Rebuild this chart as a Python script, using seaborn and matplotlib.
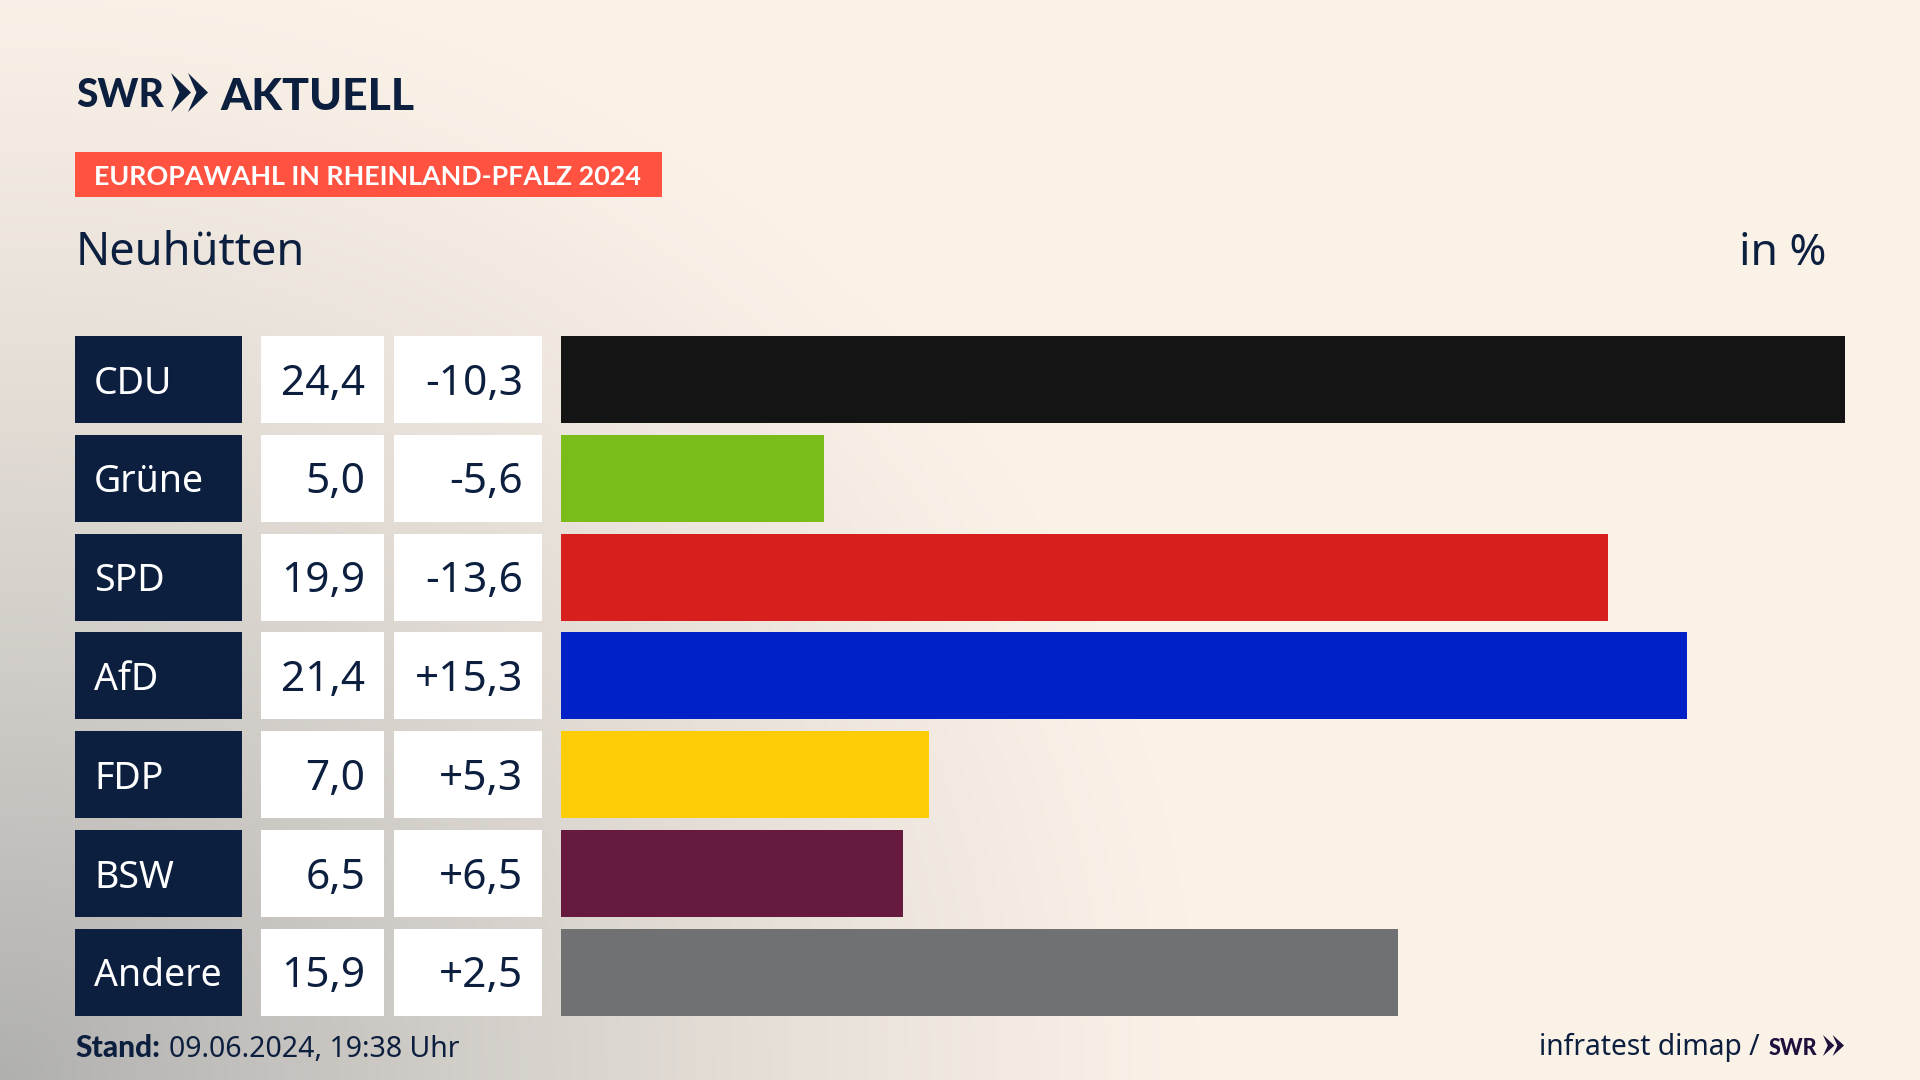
import numpy as np
import pandas as pd
import seaborn as sns
import matplotlib.pyplot as plt
from matplotlib.patches import Rectangle, Polygon

# Values
PARTIES = ["CDU", "Grüne", "SPD", "AfD", "FDP", "BSW", "Andere"]
SHARES = [24.4, 5.0, 19.9, 21.4, 7.0, 6.5, 15.9]
SHARE_LABELS = ["24,4", "5,0", "19,9", "21,4", "7,0", "6,5", "15,9"]
CHANGE_LABELS = ["-10,3", "-5,6", "-13,6", "+15,3", "+5,3", "+6,5", "+2,5"]
BAR_COLORS = ["#141414", "#7ABD1A", "#D7201E", "#0021C8", "#FFCC08", "#651A3E", "#707172"]

# Layout, all in pixels of the 1920x1080 picture
W, H = 1920, 1080
ROW_TOP = 336
ROW_H = 87
ROW_STEP = 98.83
NAVY = "#0C1F3F"
FONT = "Noto Sans"
BOLD_FONT = "Lato"

sns.set_theme(style="white")
plt.rcParams["font.family"] = [FONT, "DejaVu Sans"]

fig = plt.figure(figsize=(W / 100, H / 100), dpi=100)

# Background: cream with a grey glow from the bottom left corner
back = fig.add_axes([0, 0, 1, 1])
back.set_xlim(0, W)
back.set_ylim(H, 0)
back.axis("off")
xx, yy = np.meshgrid(np.linspace(0, W, 480), np.linspace(0, H, 270))
dist = np.sqrt((xx / 1200) ** 2 + ((H - yy) / 1120) ** 2)
glow = np.clip(1 - dist, 0, 1) ** 1.25
cream = np.array([250, 241, 231]) / 255
grey = np.array([176, 176, 175]) / 255
img = cream[None, None, :] * (1 - glow[..., None]) + grey[None, None, :] * glow[..., None]
back.imshow(img, extent=[0, W, H, 0], aspect="auto", zorder=0)


def chevrons(x, y, w, h, color):
    # the two arrows of the SWR logo
    for k in range(2):
        x0 = x + k * w * 0.46
        cw = w * 0.54
        back.add_patch(Polygon([(x0, y), (x0 + cw, y + h / 2), (x0, y + h),
                                (x0 + cw * 0.42, y + h / 2)], closed=True, color=color, lw=0, zorder=3))


# Header
back.text(76, 107, "SWR", family=BOLD_FONT, weight="black", fontsize=28, color=NAVY, va="baseline")
chevrons(171, 73, 37, 39, NAVY)
back.text(220, 110, "AKTUELL", family=BOLD_FONT, weight="black", fontsize=32, color=NAVY, va="baseline")
back.add_patch(Rectangle((75, 152), 587, 45, color="#FF5240", lw=0, zorder=2))
back.text(94, 185, "EUROPAWAHL IN RHEINLAND-PFALZ 2024", family=BOLD_FONT, weight="bold", fontsize=19.4,
          color="white", va="baseline", zorder=3)
back.text(75.5, 265, "Neuhütten", fontsize=32.5, color=NAVY, va="baseline")
back.text(1826, 265, "in %", fontsize=32, color=NAVY, va="baseline", ha="right")

# Table cells next to the bars
for i, party in enumerate(PARTIES):
    top = ROW_TOP + i * ROW_STEP
    mid = top + ROW_H / 2
    back.add_patch(Rectangle((75, top), 167, ROW_H, color=NAVY, lw=0, zorder=2))
    back.add_patch(Rectangle((261, top), 123, ROW_H, color="white", lw=0, zorder=2))
    back.add_patch(Rectangle((394, top), 148, ROW_H, color="white", lw=0, zorder=2))
    back.text(94, mid + 14, party, fontsize=27, color="white", va="baseline", zorder=3)
    back.text(365, mid + 15, SHARE_LABELS[i], fontsize=30.5, color=NAVY, va="baseline", ha="right", zorder=3)
    back.text(523, mid + 15, CHANGE_LABELS[i], fontsize=30.5, color=NAVY, va="baseline", ha="right", zorder=3)

# Bars
df = pd.DataFrame({"party": PARTIES, "share": SHARES})
row_mid = ROW_TOP + ROW_H / 2
ax_top = row_mid - ROW_STEP / 2
ax_h = 7 * ROW_STEP
ax = fig.add_axes([561 / W, 1 - (ax_top + ax_h) / H, 1284 / W, ax_h / H])
ax.patch.set_alpha(0)
sns.barplot(data=df, x="share", y="party", hue="party", palette=BAR_COLORS, order=PARTIES,
            hue_order=PARTIES, width=ROW_H / ROW_STEP, saturation=1, legend=False, linewidth=0, ax=ax)
ax.set_xlim(0, max(SHARES))
ax.set_ylim(6.5, -0.5)
ax.axis("off")

# Footer
back.text(75, 1057, "Stand:", family=BOLD_FONT, weight="black", fontsize=21.5, color=NAVY, va="baseline")
back.text(169, 1057, "09.06.2024, 19:38 Uhr", fontsize=20.5, color=NAVY, va="baseline")
back.text(1760, 1055, "infratest dimap /", fontsize=20.3, color=NAVY, va="baseline", ha="right")
back.text(1769, 1055, "SWR", family=BOLD_FONT, weight="black", fontsize=15.5, color="#1E0F3C", va="baseline")
chevrons(1823, 1035, 21, 21, "#1E0F3C")

fig.savefig("out.png", dpi=100)
